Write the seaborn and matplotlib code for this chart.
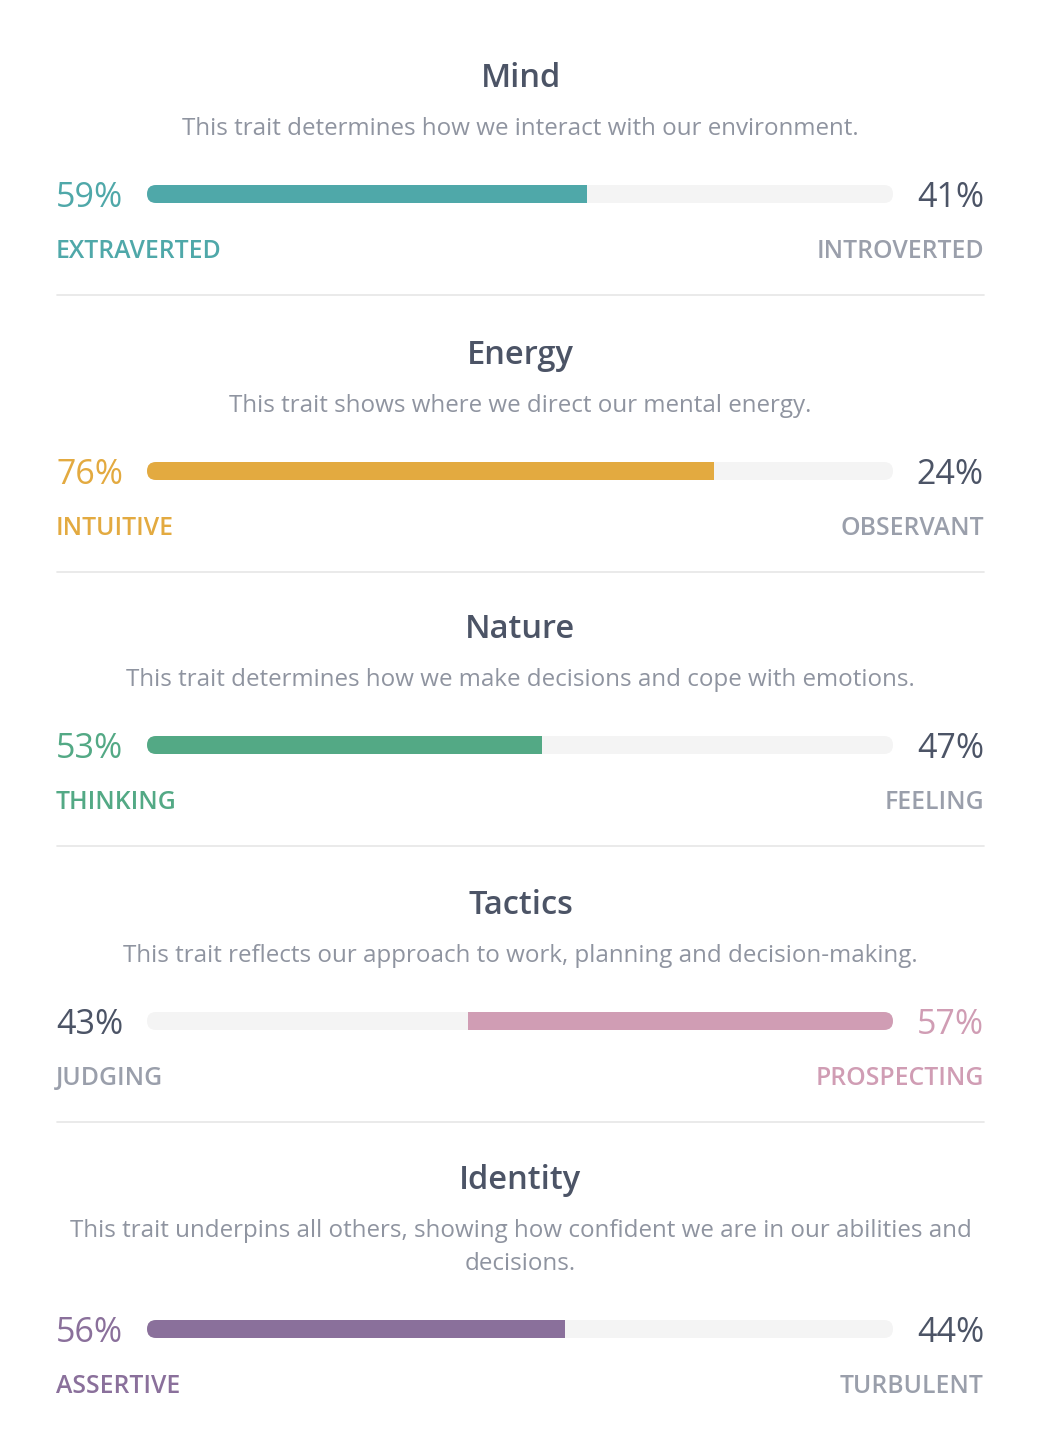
import matplotlib
matplotlib.use("Agg")
import matplotlib.pyplot as plt
import seaborn as sns
from matplotlib.patches import FancyBboxPatch
from matplotlib.transforms import IdentityTransform

# ---------------- data ----------------
traits = ["Mind", "Energy", "Nature", "Tactics", "Identity"]
descriptions = [
    "This trait determines how we interact with our environment.",
    "This trait shows where we direct our mental energy.",
    "This trait determines how we make decisions and cope with emotions.",
    "This trait reflects our approach to work, planning and decision-making.",
    "This trait underpins all others, showing how confident we are in our abilities and\ndecisions.",
]
left_labels = ["EXTRAVERTED", "INTUITIVE", "THINKING", "JUDGING", "ASSERTIVE"]
right_labels = ["INTROVERTED", "OBSERVANT", "FEELING", "PROSPECTING", "TURBULENT"]
left_pct = [59, 76, 53, 43, 56]
right_pct = [41, 24, 47, 57, 44]
dominant = ["left", "left", "left", "right", "left"]
trait_colors = ["#4fa8a9", "#e3aa40", "#53a985", "#d09db4", "#8a709b"]

# ---------------- style ----------------
sns.set_theme(style="white")
plt.rcParams["font.family"] = ["Open Sans", "DejaVu Sans"]

W, H = 1045, 1452
DPI = 100
fig = plt.figure(figsize=(W / DPI, H / DPI), dpi=DPI)
fig.patch.set_facecolor("white")

TITLE_C = "#4c5466"
DESC_C = "#8f94a0"
NEUT_PCT_C = "#4c5466"
NEUT_LBL_C = "#9a9fab"
TRACK_C = "#f4f4f4"
SEP_C = "#e6e6e6"

BAR_X0, BAR_X1 = 147, 893
BAR_H = 18
LEFT_X, RIGHT_X = 57, 984


def fx(x):
    return x / W


def fy(y):
    return 1 - y / H


section_top = [74, 351, 625, 901, 1176]

for i, trait in enumerate(traits):
    t = section_top[i]
    lines = descriptions[i].split("\n")
    extra = 33 * (len(lines) - 1)
    # title
    fig.text(fx(W / 2 - 2), fy(t + 13), trait, ha="center", va="baseline",
             fontsize=23.5, color=TITLE_C, fontweight="semibold")
    # description (one text per line)
    for k, line in enumerate(lines):
        fig.text(fx(W / 2 - 2), fy(t + 61 + 33 * k), line, ha="center", va="baseline",
                 fontsize=17.4, color=DESC_C)
    bar_c = t + 120 + extra  # bar center y (px from top)
    # bar axes
    ax = fig.add_axes([fx(BAR_X0), fy(bar_c + BAR_H / 2), fx(BAR_X1 - BAR_X0), BAR_H / H])
    col = trait_colors[i]
    val = left_pct[i] if dominant[i] == "left" else right_pct[i]
    sns.barplot(x=[100], y=[0], orient="h", color=TRACK_C, saturation=1,
                width=1, errorbar=None, ax=ax, linewidth=0)
    sns.barplot(x=[val], y=[0], orient="h", color=col, saturation=1,
                width=1, errorbar=None, ax=ax, linewidth=0)
    if dominant[i] == "left":
        ax.set_xlim(0, 100)
    else:
        ax.set_xlim(100, 0)
    ax.set_ylim(0.5, -0.5)
    ax.axis("off")
    clip = FancyBboxPatch((BAR_X0, H - (bar_c + BAR_H / 2)), BAR_X1 - BAR_X0, BAR_H,
                          boxstyle="round,pad=0,rounding_size=9",
                          transform=IdentityTransform(), facecolor="none", edgecolor="none")
    for p in ax.patches:
        p.set_clip_path(clip)

    lc = col if dominant[i] == "left" else NEUT_PCT_C
    rc = col if dominant[i] == "right" else NEUT_PCT_C
    llc = col if dominant[i] == "left" else NEUT_LBL_C
    rlc = col if dominant[i] == "right" else NEUT_LBL_C
    fig.text(fx(LEFT_X - 1), fy(bar_c + 13), f"{left_pct[i]}%", ha="left", va="baseline",
             fontsize=24.5, color=lc, fontweight="medium")
    fig.text(fx(RIGHT_X), fy(bar_c + 13), f"{right_pct[i]}%", ha="right", va="baseline",
             fontsize=24.5, color=rc, fontweight="medium")
    fig.text(fx(LEFT_X - 1), fy(bar_c + 64), left_labels[i], ha="left", va="baseline",
             fontsize=17.8, color=llc, fontweight="semibold")
    fig.text(fx(RIGHT_X), fy(bar_c + 64), right_labels[i], ha="right", va="baseline",
             fontsize=17.8, color=rlc, fontweight="semibold")
    # separator
    if i < len(traits) - 1:
        fig.add_artist(plt.Line2D([fx(LEFT_X), fx(RIGHT_X)], [fy(t + 221)] * 2,
                                  color=SEP_C, linewidth=1.2, transform=fig.transFigure))

fig.savefig("out.png", dpi=DPI, facecolor="white")
